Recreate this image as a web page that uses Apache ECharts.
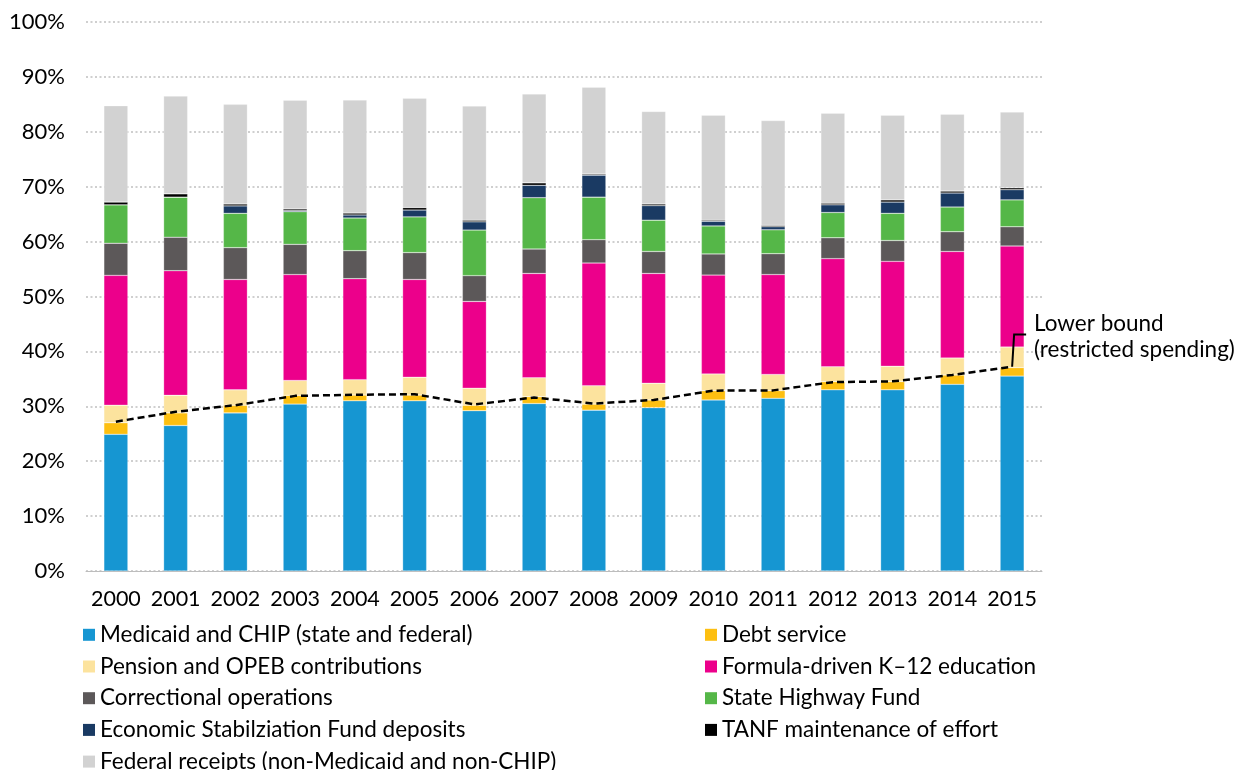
<!DOCTYPE html>
<html>
<head>
<meta charset="utf-8">
<script src="https://cdn.jsdelivr.net/npm/echarts@6/dist/echarts.min.js"></script>
<style>
  html, body { margin: 0; padding: 0; background: #fff; }
  #main { width: 1240px; height: 770px; }
</style>
</head>
<body>
<div id="main"></div>
<script>
// years on the x axis
var years = ["2000", "2001", "2002", "2003", "2004", "2005", "2006", "2007",
  "2008", "2009", "2010", "2011", "2012", "2013", "2014", "2015"];

// share of spending, percent
var medicaid = [24.9, 26.5, 28.8, 30.4, 31.0, 31.0, 29.2, 30.5, 29.3, 29.75, 31.15, 31.45, 33.0, 33.0, 34.0, 35.5];
var debt = [2.1, 2.3, 1.4, 1.6, 1.05, 1.05, 1.0, 1.25, 1.1, 1.4, 1.7, 1.4, 1.5, 1.5, 1.7, 1.55];
var pension = [3.2, 3.2, 2.8, 2.7, 2.8, 3.25, 3.1, 3.45, 3.35, 3.05, 3.05, 2.95, 2.7, 2.8, 3.1, 3.75];
var k12 = [23.65, 22.7, 20.1, 19.3, 18.4, 17.8, 15.8, 19.0, 22.35, 20.0, 18.0, 18.2, 19.7, 19.1, 19.4, 18.4];
var correctional = [5.85, 6.1, 5.8, 5.5, 5.1, 4.9, 4.7, 4.45, 4.25, 4.0, 3.85, 3.8, 3.8, 3.8, 3.6, 3.5];
var highway = [7.0, 7.3, 6.25, 5.95, 5.95, 6.5, 8.3, 9.35, 7.75, 5.7, 5.1, 4.35, 4.6, 4.95, 4.5, 4.9];
var esf = [0, 0, 1.35, 0.2, 0.55, 1.25, 1.5, 2.25, 4.0, 2.65, 0.85, 0.55, 1.4, 2.05, 2.55, 1.85];
var tanf = [0.5, 0.6, 0.35, 0.3, 0.35, 0.45, 0.3, 0.45, 0.2, 0.3, 0.2, 0.25, 0.3, 0.4, 0.35, 0.35];
var federal = [17.55, 17.8, 18.15, 19.8, 20.6, 19.9, 20.8, 16.2, 15.8, 16.85, 19.1, 19.1, 16.4, 15.4, 14.0, 13.8];

// dashed line: lower bound (restricted spending)
var lowerBound = [27.2, 29.0, 30.2, 31.9, 32.1, 32.2, 30.35, 31.6, 30.5, 31.15, 32.85, 32.9, 34.4, 34.55, 35.7, 37.2];
var leaderTop = 43.1;

var FONT = "Lato, 'Noto Sans', sans-serif";

var stack = [
  { name: "Medicaid and CHIP (state and federal)", data: medicaid, color: "#1696d2" },
  { name: "Debt service", data: debt, color: "#fdbf11" },
  { name: "Pension and OPEB contributions", data: pension, color: "#fce39e" },
  { name: "Formula-driven K\u201312 education", data: k12, color: "#ec008b" },
  { name: "Correctional operations", data: correctional, color: "#5c5859" },
  { name: "State Highway Fund", data: highway, color: "#55b748" },
  { name: "Economic Stabilziation Fund deposits", data: esf, color: "#1a3a63" },
  { name: "TANF maintenance of effort", data: tanf, color: "#000000" },
  { name: "Federal receipts (non-Medicaid and non-CHIP)", data: federal, color: "#d2d2d2" }
];

var series = stack.map(function (s) {
  return {
    name: s.name,
    type: "bar",
    stack: "total",
    barWidth: 24,
    data: s.data,
    itemStyle: { color: s.color, borderColor: "rgba(255,255,255,0.5)", borderWidth: 0.5 },
    emphasis: { disabled: true }
  };
});

series.push({
  name: "Lower bound",
  type: "line",
  data: lowerBound,
  symbol: "none",
  z: 5,
  lineStyle: { color: "#000", width: 2.5, type: [7, 4] },
  emphasis: { disabled: true }
});

var legendText = { fontSize: 22.5, lineHeight: 22, fontFamily: FONT, color: "#000" };
var legendBase = {
  orient: "vertical", top: 623.3, height: 200, padding: 0,
  itemWidth: 12, itemHeight: 12, itemGap: 8.7, selectedMode: false,
  icon: "rect", itemStyle: { borderWidth: 0 },
  textStyle: legendText
};

var myChart = echarts.init(document.getElementById("main"));
myChart.setOption({
  animation: false,
  textStyle: { fontFamily: FONT },
  grid: { left: 86, right: 198, top: 22, bottom: 199 },
  legend: [
    Object.assign({}, legendBase, {
      left: 83,
      data: [stack[0].name, stack[2].name, stack[4].name, stack[6].name, stack[8].name]
    }),
    Object.assign({}, legendBase, {
      left: 705,
      data: [stack[1].name, stack[3].name, stack[5].name, stack[7].name]
    })
  ],
  xAxis: {
    type: "category",
    data: years,
    axisLine: { lineStyle: { color: "#bdbdbd", width: 1 } },
    axisTick: { show: false },
    axisLabel: { fontSize: 21.5, color: "#000", margin: 17, interval: 0 }
  },
  yAxis: {
    type: "value",
    min: 0,
    max: 100,
    interval: 10,
    axisLine: { show: false },
    axisTick: { show: false },
    axisLabel: { fontSize: 22, color: "#000", margin: 21, formatter: "{value}%" },
    splitLine: { lineStyle: { color: "#cfcfcf", width: 2, type: [2, 2.5] } }
  },
  series: series
});

// leader line from the end of the dashed line to its label
var last = lowerBound.length - 1;
var p0 = myChart.convertToPixel({ xAxisIndex: 0, yAxisIndex: 0 }, [last, lowerBound[last]]);
var p1 = myChart.convertToPixel({ xAxisIndex: 0, yAxisIndex: 0 }, [last, leaderTop]);
myChart.setOption({
  graphic: [
    {
      type: "polyline",
      shape: { points: [[p0[0], p0[1]], [p0[0] + 2, p1[1]], [p0[0] + 14, p1[1]]] },
      style: { stroke: "#000", lineWidth: 2, fill: null },
      z: 10
    },
    {
      type: "text",
      left: 1034,
      top: 311,
      style: {
        text: "Lower bound\n(restricted spending)",
        fontSize: 22.5,
        lineHeight: 26,
        fontFamily: FONT,
        fill: "#000",
        align: "center",
        width: 204
      }
    }
  ]
});
</script>
</body>
</html>
